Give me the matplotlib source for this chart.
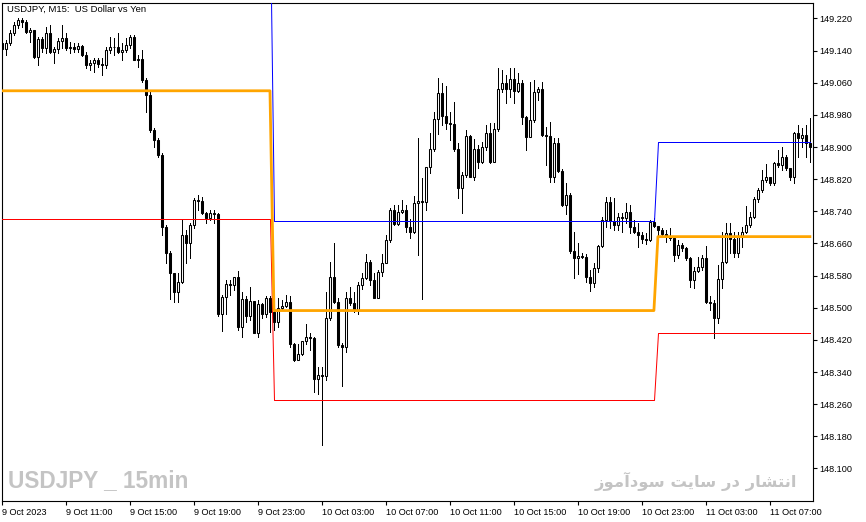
import numpy as np
import pandas as pd
import matplotlib
matplotlib.use("Agg")
import matplotlib.pyplot as plt

plt.rcParams['font.family'] = ['Liberation Sans', 'DejaVu Sans']

# USDJPY M15 bars from 9 Oct 2023 07:00 (open of each bar = previous close)
first_open = 149.159
closes = [
    149.144, 149.160, 149.183, 149.204, 149.216, 149.210, 149.187, 149.191, 149.125, 149.168,
    149.146, 149.183, 149.137, 149.143, 149.165, 149.171, 149.146, 149.150, 149.143, 149.151,
    149.129, 149.104, 149.108, 149.117, 149.107, 149.104, 149.142, 149.150, 149.149, 149.137,
    149.142, 149.154, 149.175, 149.117, 149.119, 149.067, 149.030, 148.943, 148.918, 148.880,
    148.701, 148.637, 148.586, 148.540, 148.563, 148.681, 148.660, 148.706, 148.768, 148.766,
    148.735, 148.723, 148.737, 148.733, 148.484, 148.526, 148.558, 148.557, 148.576, 148.453,
    148.521, 148.480, 148.517, 148.438, 148.509, 148.484, 148.524, 148.490, 148.465, 148.499,
    148.504, 148.515, 148.411, 148.370, 148.385, 148.416, 148.426, 148.425, 148.322, 148.333,
    148.330, 148.474, 148.577, 148.515, 148.407, 148.403, 148.524, 148.511, 148.494, 148.557,
    148.573, 148.615, 148.569, 148.525, 148.590, 148.612, 148.669, 148.743, 148.708, 148.739,
    148.743, 148.700, 148.689, 148.761, 148.766, 148.763, 148.850, 148.894, 148.969, 149.034,
    148.977, 148.959, 148.957, 148.894, 148.797, 148.830, 148.927, 148.826, 148.894, 148.864,
    148.901, 148.936, 148.864, 148.944, 149.044, 149.059, 149.044, 149.069, 149.040, 149.059,
    148.976, 148.926, 148.967, 149.038, 149.044, 148.930, 148.927, 148.826, 148.911, 148.841,
    148.756, 148.781, 148.640, 148.623, 148.629, 148.626, 148.577, 148.562, 148.598, 148.654,
    148.718, 148.764, 148.717, 148.706, 148.727, 148.723, 148.739, 148.702, 148.689, 148.681,
    148.670, 148.669, 148.714, 148.703, 148.694, 148.684, 148.679, 148.673, 148.631, 148.656,
    148.648, 148.623, 148.569, 148.592, 148.602, 148.623, 148.515, 148.511, 148.474, 148.571,
    148.615, 148.685, 148.670, 148.637, 148.677, 148.689, 148.706, 148.725, 148.770, 148.793,
    148.818, 148.825, 148.810, 148.860, 148.855, 148.876, 148.848, 148.825, 148.934, 148.922,
    148.929, 148.909, 148.901,
]
highs = [
    149.166, 149.166, 149.191, 149.212, 149.220, 149.220, 149.216, 149.196, 149.191, 149.175,
    149.175, 149.200, 149.204, 149.150, 149.171, 149.204, 149.183, 149.162, 149.158, 149.158,
    149.154, 149.137, 149.117, 149.121, 149.121, 149.122, 149.150, 149.175, 149.171, 149.183,
    149.158, 149.171, 149.179, 149.179, 149.129, 149.142, 149.071, 149.042, 148.947, 148.922,
    148.885, 148.706, 148.640, 148.587, 148.586, 148.718, 148.694, 148.710, 148.772, 148.781,
    148.776, 148.739, 148.743, 148.743, 148.737, 148.532, 148.569, 148.569, 148.577, 148.591,
    148.540, 148.528, 148.551, 148.513, 148.519, 148.511, 148.528, 148.528, 148.503, 148.524,
    148.519, 148.532, 148.528, 148.413, 148.410, 148.418, 148.460, 148.438, 148.426, 148.353,
    148.353, 148.540, 148.615, 148.661, 148.524, 148.412, 148.538, 148.552, 148.540, 148.565,
    148.587, 148.634, 148.619, 148.587, 148.594, 148.634, 148.681, 148.748, 148.756, 148.756,
    148.768, 148.756, 148.720, 148.778, 148.922, 148.822, 148.851, 148.934, 148.986, 149.071,
    149.059, 149.052, 148.988, 149.013, 148.909, 148.839, 148.943, 148.930, 148.919, 148.905,
    148.913, 148.955, 148.959, 148.959, 149.096, 149.092, 149.079, 149.096, 149.096, 149.085,
    149.067, 148.977, 149.063, 149.067, 149.050, 149.063, 148.951, 148.963, 148.922, 148.922,
    148.845, 148.810, 148.786, 148.689, 148.662, 148.636, 148.634, 148.594, 148.611, 148.656,
    148.727, 148.776, 148.776, 148.772, 148.735, 148.735, 148.760, 148.756, 148.718, 148.710,
    148.689, 148.687, 148.718, 148.723, 148.698, 148.698, 148.694, 148.698, 148.679, 148.669,
    148.660, 148.652, 148.627, 148.602, 148.627, 148.631, 148.654, 148.528, 148.519, 148.606,
    148.689, 148.712, 148.712, 148.689, 148.689, 148.702, 148.752, 148.739, 148.776, 148.797,
    148.843, 148.858, 148.825, 148.864, 148.893, 148.901, 148.880, 148.847, 148.938, 148.955,
    148.947, 148.955, 148.972,
]
lows = [
    149.129, 149.129, 149.154, 149.179, 149.196, 149.200, 149.183, 149.162, 149.121, 149.104,
    149.137, 149.133, 149.133, 149.108, 149.133, 149.146, 149.142, 149.133, 149.137, 149.137,
    149.127, 149.096, 149.092, 149.088, 149.100, 149.079, 149.096, 149.133, 149.129, 149.133,
    149.117, 149.137, 149.146, 149.117, 149.100, 149.063, 148.988, 148.938, 148.901, 148.876,
    148.681, 148.612, 148.523, 148.515, 148.515, 148.561, 148.612, 148.623, 148.698, 148.743,
    148.733, 148.712, 148.718, 148.712, 148.479, 148.443, 148.484, 148.532, 148.544, 148.445,
    148.428, 148.465, 148.470, 148.437, 148.428, 148.474, 148.478, 148.440, 148.445, 148.453,
    148.494, 148.503, 148.403, 148.368, 148.370, 148.382, 148.411, 148.395, 148.291, 148.285,
    148.158, 148.320, 148.470, 148.513, 148.403, 148.305, 148.391, 148.507, 148.490, 148.484,
    148.546, 148.571, 148.557, 148.524, 148.524, 148.579, 148.612, 148.664, 148.706, 148.706,
    148.735, 148.689, 148.673, 148.685, 148.631, 148.521, 148.743, 148.835, 148.891, 148.932,
    148.955, 148.944, 148.918, 148.891, 148.772, 148.737, 148.825, 148.825, 148.818, 148.847,
    148.860, 148.893, 148.861, 148.868, 148.941, 149.038, 149.009, 149.025, 149.010, 149.038,
    148.957, 148.893, 148.924, 148.963, 149.017, 148.927, 148.855, 148.814, 148.814, 148.839,
    148.752, 148.733, 148.636, 148.573, 148.584, 148.623, 148.565, 148.542, 148.551, 148.590,
    148.650, 148.700, 148.698, 148.694, 148.694, 148.689, 148.710, 148.687, 148.687, 148.652,
    148.660, 148.659, 148.667, 148.702, 148.669, 148.679, 148.664, 148.669, 148.617, 148.623,
    148.640, 148.619, 148.552, 148.548, 148.590, 148.594, 148.511, 148.494, 148.424, 148.461,
    148.548, 148.611, 148.636, 148.627, 148.627, 148.652, 148.687, 148.702, 148.723, 148.764,
    148.789, 148.813, 148.806, 148.806, 148.851, 148.843, 148.843, 148.818, 148.811, 148.876,
    148.901, 148.876, 148.864,
]

# indicator levels, one value per trading day (9, 10, 11 Oct)
day_high = [149.360, 148.716, 148.912]
day_low = [148.720, 148.270, 148.436]
day_mid = [149.040, 148.493, 148.677]

x_labels = ["9 Oct 2023", "9 Oct 11:00", "9 Oct 15:00", "9 Oct 19:00", "9 Oct 23:00",
            "10 Oct 03:00", "10 Oct 07:00", "10 Oct 11:00", "10 Oct 15:00",
            "10 Oct 19:00", "10 Oct 23:00", "11 Oct 03:00", "11 Oct 07:00"]
y_ticks = [148.100, 148.180, 148.260, 148.340, 148.420, 148.500, 148.580, 148.660,
           148.740, 148.820, 148.900, 148.980, 149.060, 149.140, 149.220]

title = "USDJPY, M15:  US Dollar vs Yen"
mark_left = "USDJPY _ 15min"
# "انتشار در سایت سودآموز" written in shaped presentation forms, visual order
mark_right = ("\ufeaf\ufeee\ufee3\ufe81\ufea9\ufeee\ufeb3 "
              "\ufe96\ufef3\ufe8e\ufeb3 "
              "\ufead\ufea9 "
              "\ufead\ufe8e\ufeb8\ufe98\ufee7\ufe8d")

times = pd.date_range("2023-10-09 07:00", periods=len(closes), freq="15min")
opens = np.array([first_open] + closes[:-1])
c = np.array(closes)
x = np.arange(len(closes))
day = (times.normalize() - times[0].normalize()).days.values

fig = plt.figure(figsize=(8.66, 5.22), dpi=100)
fig.patch.set_facecolor("white")
ax = fig.add_axes([2 / 866, 21 / 522, 811.3 / 866, 498 / 522])
ax.set_facecolor("white")

# candles
up = c >= opens
ax.vlines(x, lows, highs, color="black", lw=0.6, zorder=2, antialiased=False)
ax.bar(x[up], (c - opens)[up], bottom=opens[up], width=0.55,
       color="white", edgecolor="black", lw=0.75, zorder=3)
ax.bar(x[~up], (c - opens)[~up], bottom=opens[~up], width=0.55,
       color="black", edgecolor="black", lw=0.75, zorder=3)

# daily levels
ax.plot(x, np.array(day_high)[day], color="#0000FF", lw=0.72, zorder=4, snap=True)
ax.plot(x, np.array(day_low)[day], color="#FF0000", lw=0.72, zorder=4, snap=True)
ax.plot(x, np.array(day_mid)[day], color="#FFA500", lw=2.0, zorder=5)

ax.set_xlim(0, 202.85)
ax.set_ylim(148.019, 149.2585)

tick_pos = [i for i, t in enumerate(times) if t.minute == 0 and t.hour % 4 == 3]
ax.set_xticks(tick_pos)
ax.set_xticklabels(x_labels[:len(tick_pos)], fontsize=6.6)
for lab in ax.get_xticklabels():
    lab.set_horizontalalignment("left")
ax.yaxis.tick_right()
ax.set_yticks(y_ticks)
ax.set_yticklabels(["%.3f" % v for v in y_ticks], fontsize=6.6)
ax.tick_params(axis="x", direction="out", length=3, width=0.8, pad=2)
ax.tick_params(axis="y", direction="out", length=3, width=0.8, pad=1.5)
for s in ax.spines.values():
    s.set_linewidth(0.8)
    s.set_color("black")

ax.text(0.006, 0.988, title, transform=ax.transAxes, fontsize=6.8,
        ha="left", va="center")
ax.text(0.007, 0.042, mark_left, transform=ax.transAxes, fontsize=16.3,
        fontweight="bold", color="#C4C4C4", ha="left", va="center", zorder=1)
ax.text(0.980, 0.040, mark_right, transform=ax.transAxes, fontsize=11.8,
        fontweight="bold", color="#C4C4C4", ha="right", va="center",
        family=["DejaVu Sans"], zorder=1)

fig.savefig("out.png", dpi=100, facecolor="white")
